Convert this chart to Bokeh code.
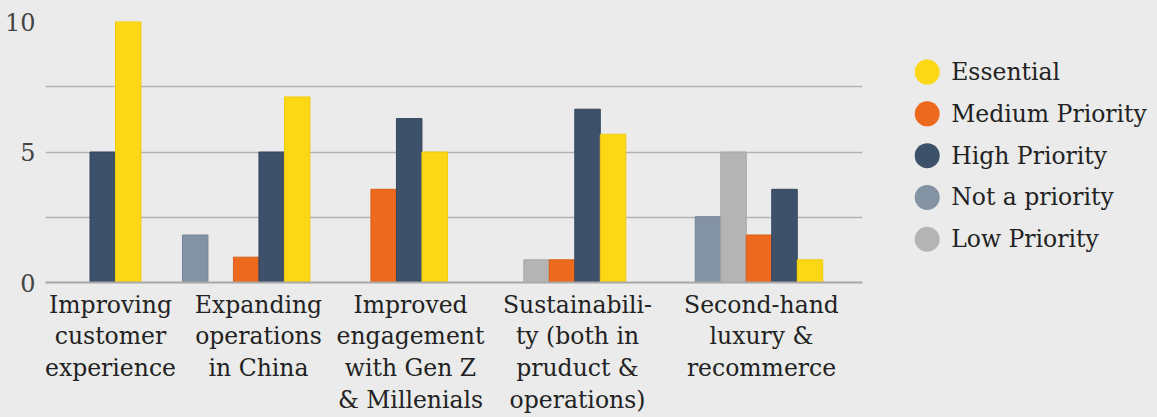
from bokeh.plotting import figure
from bokeh.models import Range1d, FixedTicker, ColumnDataSource
from bokeh.layouts import row
from bokeh.core.properties import value
from bokeh.embed import file_html
from bokeh.resources import INLINE

# ---------------- data ----------------
categories = [
    "Improving\ncustomer\nexperience",
    "Expanding\noperations\nin China",
    "Improved\nengagement\nwith Gen Z\n& Millenials",
    "Sustainabili-\nty (both in\npruduct &\noperations)",
    "Second-hand\nluxury &\nrecommerce",
]
series = ["Not a priority", "Low Priority", "Medium Priority", "High Priority", "Essential"]
not_a_priority = [None, 1.82, None, None, 2.52]
low_priority = [None, 0.0, None, 0.87, 5.0]
medium_priority = [None, 0.97, 3.57, 0.87, 1.82]
high_priority = [5.0, 5.0, 6.28, 6.64, 3.57]
essential = [10.0, 7.11, 5.0, 5.68, 0.87]
legend_order = ["Essential", "Medium Priority", "High Priority", "Not a priority", "Low Priority"]
y_ticks = [0, 2.5, 5, 7.5, 10]
y_tick_labels = ["0", "", "5", "", "10"]

values = {
    "Not a priority": not_a_priority,
    "Low Priority": low_priority,
    "Medium Priority": medium_priority,
    "High Priority": high_priority,
    "Essential": essential,
}

# ---------------- style / layout ----------------
colors = {
    "Not a priority": "#8393a4",
    "Low Priority": "#b4b4b4",
    "Medium Priority": "#ec691d",
    "High Priority": "#3e516b",
    "Essential": "#fcd716",
}
edge = {
    "Not a priority": "#75869a",
    "Low Priority": "#a6a6a6",
    "Medium Priority": "#d85f18",
    "High Priority": "#34465e",
    "Essential": "#efcb10",
}
BG = "#ebebeb"
FONT = "DejaVu Serif"
TXT = "#222222"
group_center = [115, 245.7, 408.7, 574.3, 758.5]
label_center = [110, 258, 410, 577, 761]
bar_w = 25.5
FRAME_TOP = 21
FRAME_BOTTOM = 282.7

p = figure(width=870, height=417, output_backend="svg", toolbar_location=None,
           x_range=Range1d(45, 862), y_range=Range1d(0, 10),
           min_border_left=45, min_border_right=8, min_border_top=FRAME_TOP,
           min_border_bottom=134)
p.background_fill_color = None
p.border_fill_color = BG
p.outline_line_color = None

# bars: missing values are skipped, remaining bars centred on the group
for s in series:
    xs, tops = [], []
    for g in range(len(categories)):
        present = [t for t in series if values[t][g] is not None]
        if values[s][g] is None:
            continue
        i = present.index(s)
        n = len(present)
        xs.append(group_center[g] + (i - (n - 1) / 2) * bar_w)
        tops.append(values[s][g])
    src = ColumnDataSource(dict(x=xs, top=tops))
    p.vbar(x="x", top="top", bottom=0, width=bar_w, source=src,
           fill_color=colors[s], line_color=edge[s], line_width=1)

# y axis
p.yaxis.ticker = FixedTicker(ticks=y_ticks)
p.yaxis.major_label_overrides = {t: l for t, l in zip(y_ticks, y_tick_labels)}
p.yaxis.axis_line_color = None
p.yaxis.major_tick_line_color = None
p.yaxis.minor_tick_line_color = None
p.yaxis.major_tick_out = 0
p.yaxis.major_tick_in = 0
p.yaxis.major_label_standoff = 10
p.yaxis.major_label_text_font = FONT
p.yaxis.major_label_text_font_size = "24px"
p.yaxis.major_label_text_color = "#444444"
p.ygrid.ticker = FixedTicker(ticks=y_ticks)
p.ygrid.grid_line_color = "#b2b2b2"
p.ygrid.grid_line_width = 1.5

# x axis
p.xgrid.grid_line_color = None
p.xaxis.ticker = FixedTicker(ticks=label_center)
p.xaxis.major_label_overrides = {c: lab for c, lab in zip(label_center, categories)}
p.xaxis.axis_line_color = "#a8a8a8"
p.xaxis.axis_line_width = 2
p.xaxis.major_tick_line_color = None
p.xaxis.minor_tick_line_color = None
p.xaxis.major_tick_out = 0
p.xaxis.major_tick_in = 0
p.xaxis.major_label_standoff = 8
p.xaxis.major_label_text_font = FONT
p.xaxis.major_label_text_font_size = "23.5px"
p.xaxis.major_label_text_color = TXT
p.xaxis.major_label_text_line_height = 1.14

# legend panel (its frame is aligned with the chart frame by the row layout)
lg = figure(width=287, height=417, output_backend="svg", toolbar_location=None,
            x_range=Range1d(0, 287), y_range=Range1d(FRAME_BOTTOM, FRAME_TOP),
            min_border_left=0, min_border_right=0, min_border_top=FRAME_TOP,
            min_border_bottom=134)
lg.background_fill_color = None
lg.border_fill_color = BG
lg.outline_line_color = None
lg.axis.visible = False
lg.grid.visible = False
leg_top = 71.7
leg_step = 41.9
leg_y = [leg_top + i * leg_step for i in range(len(legend_order))]
lsrc = ColumnDataSource(dict(
    y=leg_y, name=legend_order,
    color=[colors[s] for s in legend_order],
))
lg.scatter(x=56.7, y="y", size=25, marker="circle", fill_color="color",
           line_color=None, source=lsrc)
lg.text(x=80.7, y="y", text="name", text_baseline="middle", text_align="left",
        text_font=value(FONT), text_font_size="23.5px", text_color=TXT, source=lsrc)

layout = row(p, lg, spacing=0, styles={"background-color": BG})
open("out.html", "w").write(file_html(layout, INLINE))
